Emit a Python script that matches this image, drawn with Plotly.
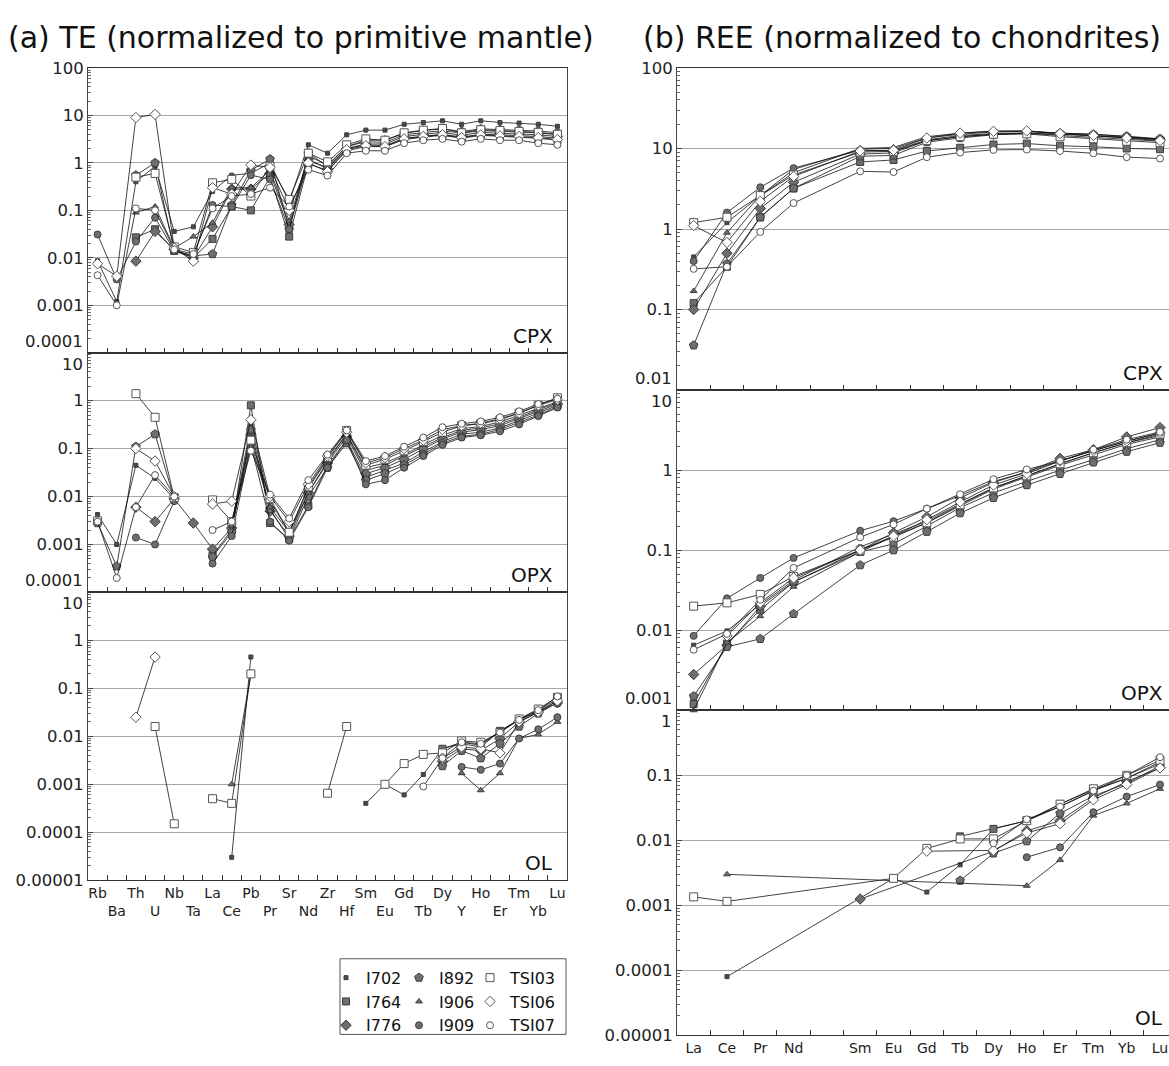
import plotly.graph_objects as go

# ---- element order on the x axes ----
TE = ["Rb", "Ba", "Th", "U", "Nb", "Ta", "La", "Ce", "Pb", "Pr", "Sr", "Nd", "Zr",
      "Hf", "Sm", "Eu", "Gd", "Tb", "Dy", "Y", "Ho", "Er", "Tm", "Yb", "Lu"]
REE = ["La", "Ce", "Pr", "Nd", "Sm", "Eu", "Gd", "Tb", "Dy", "Ho", "Er", "Tm", "Yb", "Lu"]
REE_SLOTS = ["La", "Ce", "Pr", "Nd", "Pm", "Sm", "Eu", "Gd", "Tb", "Dy", "Ho", "Er", "Tm", "Yb", "Lu"]

SAMPLES = ["I702", "I764", "I776", "I892", "I906", "I909", "TSI03", "TSI06", "TSI07"]
N = None

# ---- (a) trace elements, primitive-mantle normalised ----
TE_CPX = {
    "I702":  [0.0087, 0.0012, 0.40, 0.85, 0.036, 0.045, 0.25, 0.55, 0.60, 1.0, 0.15, 2.4, 1.6, 3.9, 4.9, 4.9, 6.5, 7.1, 7.7, 6.5, 7.7, 7.1, 6.9, 6.5, 5.9],
    "I764":  [N, N, 0.027, 0.040, 0.014, 0.010, 0.025, 0.12, 0.10, 0.50, 0.028, 0.95, 0.70, 1.8, 2.2, 2.2, 3.1, 3.5, 3.8, 3.3, 3.8, 3.6, 3.5, 3.3, 3.0],
    "I776":  [N, N, 0.0085, 0.036, 0.015, 0.010, 0.045, 0.28, 0.28, 0.60, 0.05, 1.2, 0.75, 2.0, 2.5, 2.5, 3.6, 4.0, 4.4, 3.8, 4.4, 4.2, 4.1, 3.9, 3.6],
    "I892":  [N, N, 0.55, 1.0, 0.014, 0.011, 0.012, 0.13, 0.70, 1.2, 0.04, 1.6, 0.85, 2.2, 3.0, 3.0, 4.2, 4.8, 5.2, 4.6, 5.2, 5.0, 4.9, 4.7, 4.3],
    "I906":  [N, N, 0.09, 0.12, 0.016, 0.028, 0.055, 0.30, 0.30, 0.70, 0.06, 1.4, 0.90, 2.2, 2.8, 2.7, 3.9, 4.4, 4.8, 4.2, 4.8, 4.6, 4.5, 4.3, 3.9],
    "I909":  [0.031, 0.0035, 0.022, 0.07, 0.014, 0.011, 0.13, 0.12, 0.55, 0.45, 0.04, 1.1, 0.80, 2.0, 2.4, 2.3, 3.3, 3.7, 4.0, 3.5, 4.0, 3.9, 3.8, 3.6, 3.3],
    "TSI03": [N, N, 0.50, 0.60, 0.017, 0.013, 0.38, 0.45, 0.20, 0.85, 0.17, 1.6, 1.05, 2.4, 3.2, 3.0, 4.3, 4.9, 5.3, 4.3, 5.0, 4.8, 4.6, 4.4, 4.0],
    "TSI06": [0.0075, 0.0041, 9.0, 10.5, 0.016, 0.0085, 0.30, 0.22, 0.90, 0.80, 0.10, 1.0, 0.65, 1.9, 2.3, 2.2, 3.2, 3.6, 3.9, 3.4, 3.9, 3.7, 3.6, 3.4, 3.1],
    "TSI07": [0.0043, 0.0010, 0.11, 0.10, 0.015, 0.012, 0.11, 0.20, 0.22, 0.30, 0.12, 0.72, 0.54, 1.6, 1.8, 1.8, 2.6, 3.0, 3.2, 2.8, 3.2, 3.0, 3.0, 2.6, 2.4],
}
TE_OPX = {
    "I702":  [0.0042, 0.0010, 0.045, 0.024, 0.009, N, N, 0.0025, 0.30, 0.008, 0.0018, 0.015, 0.06, 0.20, 0.035, 0.045, 0.07, 0.11, 0.17, 0.24, 0.27, 0.33, 0.45, 0.65, 0.90],
    "I764":  [N, N, N, N, N, N, 0.0006, 0.0020, 0.80, 0.0028, 0.0013, 0.0065, 0.045, 0.15, 0.025, 0.035, 0.05, 0.085, 0.14, 0.20, 0.22, 0.27, 0.38, 0.55, 0.80],
    "I776":  [N, N, 0.006, 0.003, 0.009, 0.0028, 0.0008, 0.0022, 0.20, 0.005, 0.0015, 0.012, 0.05, 0.18, 0.030, 0.040, 0.06, 0.10, 0.16, 0.22, 0.25, 0.30, 0.42, 0.60, 0.85],
    "I892":  [0.0028, 0.00035, 0.11, 0.20, 0.009, N, 0.00055, 0.0018, 0.25, 0.0055, 0.0013, 0.010, 0.04, 0.13, 0.022, 0.030, 0.045, 0.075, 0.13, 0.18, 0.20, 0.25, 0.35, 0.50, 0.75],
    "I906":  [N, N, N, N, N, N, N, 0.0024, 0.13, 0.006, 0.0018, 0.012, 0.055, 0.20, 0.040, 0.050, 0.075, 0.12, 0.19, 0.26, 0.29, 0.36, 0.50, 0.70, 0.95],
    "I909":  [N, N, 0.0014, 0.0010, 0.008, N, 0.0004, 0.0015, 0.12, 0.003, 0.0012, 0.006, 0.04, 0.15, 0.018, 0.022, 0.04, 0.07, 0.12, 0.17, 0.19, 0.23, 0.32, 0.48, 0.72],
    "TSI03": [0.0031, N, 1.4, 0.45, 0.0095, N, 0.0085, 0.003, 0.15, 0.009, 0.0018, 0.016, 0.065, 0.24, 0.045, 0.06, 0.09, 0.14, 0.22, 0.30, 0.33, 0.40, 0.55, 0.80, 1.15],
    "TSI06": [N, N, 0.10, 0.055, 0.010, N, 0.007, 0.008, 0.40, 0.010, 0.003, 0.018, 0.07, 0.22, 0.050, 0.065, 0.10, 0.15, 0.25, 0.30, 0.34, 0.42, 0.55, 0.80, 1.05],
    "TSI07": [0.0030, 0.0002, 0.006, 0.028, 0.010, N, 0.002, 0.003, 0.09, 0.011, 0.0035, 0.022, 0.075, 0.24, 0.055, 0.070, 0.11, 0.17, 0.28, 0.33, 0.37, 0.45, 0.60, 0.85, 1.10],
}
TE_OL = {
    "I702":  [N, N, N, N, N, N, N, 0.00003, 0.45, N, N, N, N, N, 0.0004, 0.001, 0.0006, 0.0016, 0.0055, 0.0075, 0.0065, 0.013, 0.022, 0.035, 0.060],
    "I764":  [N, N, N, N, N, N, N, N, N, N, N, N, N, N, N, N, N, N, 0.0055, 0.007, 0.006, 0.013, 0.022, 0.033, 0.055],
    "I776":  [N, N, N, N, N, N, N, N, N, N, N, N, N, N, N, N, N, N, 0.003, 0.0055, 0.005, 0.009, 0.020, 0.032, 0.050],
    "I892":  [N, N, N, N, N, N, N, N, N, N, N, N, N, N, N, N, N, N, 0.0024, 0.005, 0.0035, 0.007, 0.016, 0.030, 0.050],
    "I906":  [N, N, N, N, N, N, N, 0.001, 0.2, N, N, N, N, N, N, N, N, N, N, 0.0017, 0.00075, 0.0017, 0.009, 0.011, 0.020],
    "I909":  [N, N, N, N, N, N, N, N, N, N, N, N, N, N, N, N, N, N, N, 0.0023, 0.002, 0.0027, 0.009, 0.014, 0.025],
    "TSI03": [N, N, N, 0.016, 0.00015, N, 0.0005, 0.0004, 0.2, N, N, N, 0.00065, 0.016, N, 0.001, 0.0027, 0.0042, 0.0045, 0.008, 0.0075, 0.012, 0.023, 0.037, 0.065],
    "TSI06": [N, N, 0.025, 0.45, N, N, N, N, N, N, N, N, N, N, N, N, N, N, 0.0035, 0.006, 0.0055, 0.0045, 0.020, 0.032, 0.055],
    "TSI07": [N, N, N, N, N, N, N, N, N, N, N, N, N, N, N, N, N, 0.0009, 0.0035, 0.0075, 0.007, 0.012, 0.022, 0.035, 0.068],
}

# ---- (b) REE, chondrite-normalised ----
REE_CPX = {
    "I702":  [0.45, 1.2, 2.6, 5.5, 9.8, 10.0, 13.5, 15.0, 16.0, 16.3, 15.3, 14.5, 13.5, 12.8],
    "I764":  [0.12, 0.34, 1.4, 3.2, 6.8, 7.2, 9.3, 10.2, 11.2, 11.5, 10.8, 10.5, 10.0, 9.8],
    "I776":  [0.10, 0.50, 1.8, 3.8, 8.5, 8.8, 12.5, 14.0, 15.0, 15.3, 15.0, 14.5, 13.8, 13.0],
    "I892":  [0.036, 0.37, 1.4, 3.2, 8.0, 8.2, 12.0, 13.5, 14.8, 15.5, 15.5, 15.0, 14.2, 13.2],
    "I906":  [0.17, 0.90, 2.6, 5.0, 10.0, 10.3, 14.0, 15.5, 16.5, 16.5, 15.5, 15.0, 14.0, 13.0],
    "I909":  [0.40, 1.6, 3.3, 5.7, 9.5, 9.3, 12.8, 14.5, 15.3, 15.6, 14.5, 13.8, 13.0, 12.3],
    "TSI03": [1.2, 1.4, 2.6, 4.7, 9.0, 9.2, 12.5, 14.0, 15.0, 15.2, 14.0, 13.2, 12.3, 11.8],
    "TSI06": [1.1, 0.68, 2.2, 4.5, 9.3, 9.5, 13.5, 15.5, 16.3, 16.5, 15.3, 14.5, 13.5, 12.5],
    "TSI07": [0.32, 0.34, 0.92, 2.1, 5.2, 5.1, 7.8, 8.9, 9.6, 9.7, 9.3, 8.7, 7.8, 7.5],
}
REE_OPX = {
    "I702":  [0.0065, 0.0098, 0.021, 0.042, 0.11, 0.16, 0.23, 0.38, 0.60, 0.85, 1.2, 1.65, 2.2, 2.7],
    "I764":  [0.0012, 0.0068, 0.018, 0.040, 0.095, 0.12, 0.20, 0.34, 0.52, 0.72, 1.0, 1.35, 1.85, 2.4],
    "I776":  [0.0028, 0.0065, 0.020, 0.040, 0.10, 0.165, 0.26, 0.45, 0.70, 0.95, 1.4, 1.8, 2.6, 3.4],
    "I892":  [0.0015, 0.0062, 0.0078, 0.016, 0.065, 0.10, 0.17, 0.29, 0.45, 0.65, 0.90, 1.25, 1.7, 2.2],
    "I906":  [0.0010, 0.0070, 0.015, 0.035, 0.095, 0.15, 0.22, 0.36, 0.58, 0.82, 1.15, 1.55, 2.1, 2.6],
    "I909":  [0.0085, 0.025, 0.045, 0.080, 0.175, 0.23, 0.33, 0.48, 0.72, 0.95, 1.3, 1.75, 2.3, 2.9],
    "TSI03": [0.020, 0.022, 0.028, 0.047, 0.10, 0.145, 0.22, 0.37, 0.60, 0.85, 1.2, 1.65, 2.2, 2.8],
    "TSI06": [N, 0.0085, 0.022, 0.045, 0.10, 0.15, 0.24, 0.40, 0.65, 0.90, 1.3, 1.75, 2.3, 2.9],
    "TSI07": [0.0057, 0.0090, 0.024, 0.060, 0.145, 0.21, 0.33, 0.50, 0.77, 1.02, 1.3, 1.8, 2.4, 3.0],
}
REE_OL = {
    "I702":  [N, 0.00008, N, N, N, 0.0026, 0.0016, 0.0042, 0.015, 0.020, 0.033, 0.058, 0.09, 0.16],
    "I764":  [N, N, N, N, N, N, N, 0.0115, 0.015, 0.020, 0.036, 0.060, 0.09, 0.15],
    "I776":  [N, N, N, N, 0.00125, N, N, N, 0.0068, 0.014, 0.020, 0.045, 0.08, 0.13],
    "I892":  [N, N, N, N, N, N, N, 0.0024, 0.0063, 0.0097, 0.026, 0.048, 0.075, 0.14],
    "I906":  [N, 0.003, N, N, N, N, N, N, N, 0.002, 0.005, 0.024, 0.037, 0.062],
    "I909":  [N, N, N, N, N, N, N, N, N, 0.0055, 0.0078, 0.027, 0.047, 0.072],
    "TSI03": [0.00135, 0.00115, N, N, N, 0.0026, 0.0075, 0.0105, 0.0105, 0.020, 0.036, 0.062, 0.10, 0.17],
    "TSI06": [N, N, N, N, N, N, 0.0068, N, 0.007, 0.013, 0.018, 0.042, 0.072, 0.13],
    "TSI07": [N, N, N, N, N, N, N, N, 0.009, 0.021, 0.033, 0.058, 0.10, 0.19],
}

# ---- marker look per sample ----
FILL = "#6e6e6e"
EDGE = "#3c3c3c"
STYLE = {
    "I702":  dict(symbol="square", size=4, color="#4a4a4a", line=dict(color=EDGE, width=1)),
    "I764":  dict(symbol="square", size=7, color=FILL, line=dict(color=EDGE, width=1)),
    "I776":  dict(symbol="diamond", size=8, color=FILL, line=dict(color=EDGE, width=1)),
    "I892":  dict(symbol="pentagon", size=9, color=FILL, line=dict(color=EDGE, width=1)),
    "I906":  dict(symbol="triangle-up", size=6, color=FILL, line=dict(color=EDGE, width=1)),
    "I909":  dict(symbol="circle", size=7, color=FILL, line=dict(color=EDGE, width=1)),
    "TSI03": dict(symbol="square", size=8, color="white", line=dict(color="#555", width=1)),
    "TSI06": dict(symbol="diamond", size=8, color="white", line=dict(color="#555", width=1)),
    "TSI07": dict(symbol="circle", size=7, color="white", line=dict(color="#555", width=1)),
}

W, H = 1169, 1066
FONT = "DejaVu Sans"
YFONT = dict(family=FONT, size=16.5, color="#222")
XFONT = dict(family=FONT, size=14, color="#222")


def px_x(p):
    return p / W


def px_y(p):
    return 1 - p / H


def label(v, k):
    return f"{v:.{max(0, -k)}f}"


def log_axis(lo, hi, top_px, bot_px, anchor, mirror):
    vals = [10.0 ** k for k in range(lo, hi + 1)]
    text = [label(v, k) for v, k in zip(vals, range(lo, hi + 1))]
    minor = [m * 10.0 ** k for k in range(lo, hi) for m in range(2, 10)]
    return dict(
        type="log", range=[lo, hi], domain=[px_y(bot_px), px_y(top_px)], anchor=anchor,
        tickmode="array", tickvals=vals, ticktext=text,
        ticks="inside", ticklen=5, tickcolor="#444",
        minor=dict(tickvals=minor, ticks="inside", ticklen=3, tickcolor="#666", showgrid=False),
        showgrid=True, gridcolor="#a6a6a6", gridwidth=1,
        showline=True, linecolor="#444", linewidth=1, mirror=mirror,
        tickfont=YFONT, zeroline=False,
    )


def cat_axis(cats, x0, x1, anchor, ticktext, upper):
    return dict(
        type="category", categoryorder="array", categoryarray=cats,
        range=[-0.5, upper], domain=[px_x(x0), px_x(x1)], anchor=anchor,
        tickmode="array", tickvals=cats, ticktext=ticktext if ticktext else [""] * len(cats),
        showticklabels=bool(ticktext), tickson="boundaries", tickangle=0,
        ticks="inside", ticklen=5, tickcolor="#333",
        showline=True, linecolor="#333", linewidth=1, mirror=True, showgrid=False,
        tickfont=XFONT,
    )


LX0, LX1 = 88, 567
RX0, RX1 = 677, 1169
REE_UPPER = 14.27   # the right-hand panels run off the page edge just past Lu
# (x axis, y axis, data, categories, y range, top px, bottom px, x extent, mineral)
PANELS = [
    ("x", "y", TE_CPX, TE, (-4, 2), 60, 350, (LX0, LX1), "CPX"),
    ("x2", "y2", TE_OPX, TE, (-4, 1), 350, 594, (LX0, LX1), "OPX"),
    ("x3", "y3", TE_OL, TE, (-5, 1), 594, 887, (LX0, LX1), "OL"),
    ("x4", "y4", REE_CPX, REE, (-2, 2), 60, 388, (RX0, RX1), "CPX"),
    ("x5", "y5", REE_OPX, REE, (-3, 1), 388, 714, (RX0, RX1), "OPX"),
    ("x6", "y6", REE_OL, REE, (-5, 0), 714, 1045, (RX0, RX1), "OL"),
]

fig = go.Figure()
layout = {}
annotations = []

te_labels = [e if i % 2 == 0 else "<br>" + e for i, e in enumerate(TE)]
ree_labels = ["" if e == "Pm" else e for e in REE_SLOTS]

for xa, ya, data, cats, (lo, hi), top, bot, (x0, x1), mineral in PANELS:
    left = cats is TE
    for s in SAMPLES:
        fig.add_trace(go.Scatter(
            x=cats, y=data[s], mode="lines+markers", name=s, showlegend=False,
            xaxis=xa, yaxis=ya, connectgaps=not left, cliponaxis=False,
            line=dict(color="#111", width=0.8), marker=STYLE[s],
        ))
    xkey = "xaxis" + xa[1:]
    ykey = "yaxis" + ya[1:]
    bottom = mineral == "OL"
    if left:
        layout[xkey] = cat_axis(TE, x0, x1, ya, te_labels if bottom else None, len(TE) - 0.5)
    else:
        layout[xkey] = cat_axis(REE_SLOTS, x0, x1, ya, ree_labels if bottom else None, REE_UPPER)
    ax = log_axis(lo, hi, top, bot, xa, left)
    # labels sitting on a shared panel edge are nudged inside their own panel
    text = list(ax["ticktext"])
    if mineral != "CPX":
        annotations.append(dict(text=text[-1], xref=f"{xa} domain", yref=f"{ya} domain",
                                x=0, y=1, xanchor="right", yanchor="top", xshift=-3,
                                showarrow=False, font=YFONT))
        text[-1] = ""
    if not bottom:
        annotations.append(dict(text=text[0], xref=f"{xa} domain", yref=f"{ya} domain",
                                x=0, y=0, xanchor="right", yanchor="bottom", xshift=-3,
                                showarrow=False, font=YFONT))
        text[0] = ""
    ax["ticktext"] = text
    layout[ykey] = ax
    annotations.append(dict(text=mineral, xref=f"{xa} domain", yref=f"{ya} domain",
                            x=1, y=0, xanchor="right", yanchor="bottom",
                            xshift=-12 if left else -4, yshift=3,
                            showarrow=False, font=dict(family=FONT, size=20, color="#111")))

# legend: three columns, markers only
LEGEND_COLS = [["I702", "I764", "I776"], ["I892", "I906", "I909"], ["TSI03", "TSI06", "TSI07"]]
LEGEND_X = [326, 399, 470]
for i, col in enumerate(LEGEND_COLS):
    key = "legend" if i == 0 else f"legend{i + 1}"
    for s in col:
        fig.add_trace(go.Scatter(x=[None], y=[None], mode="markers", name=s, marker=STYLE[s],
                                 showlegend=True, legend=key))
    layout[key] = dict(x=px_x(LEGEND_X[i]), y=px_y(969), xanchor="left", yanchor="top",
                       bgcolor="rgba(0,0,0,0)", borderwidth=0, tracegroupgap=0,
                       font=dict(family=FONT, size=16, color="#111"))

annotations += [
    dict(text="(a) TE (normalized to primitive mantle)", xref="paper", yref="paper",
         x=px_x(301), y=px_y(29), xanchor="center", yanchor="middle", showarrow=False,
         font=dict(family=FONT, size=30, color="#111")),
    dict(text="(b) REE (normalized to chondrites)", xref="paper", yref="paper",
         x=px_x(902), y=px_y(29), xanchor="center", yanchor="middle", showarrow=False,
         font=dict(family=FONT, size=30, color="#111")),
]

fig.update_layout(
    width=W, height=H, margin=dict(l=0, r=0, t=0, b=0),
    paper_bgcolor="white", plot_bgcolor="white",
    font=dict(family=FONT, size=14, color="#222"),
    annotations=annotations,
    shapes=[dict(type="rect", xref="paper", yref="paper",
                 x0=px_x(340), x1=px_x(566), y0=px_y(1044), y1=px_y(967),
                 line=dict(color="#555", width=1))],
    **layout,
)

# the page body's default 8px margin would push the 1169x1066 figure off-screen
fig.write_html("out.html", config={"displayModeBar": False},
               post_script="document.body.style.margin = '0';")
